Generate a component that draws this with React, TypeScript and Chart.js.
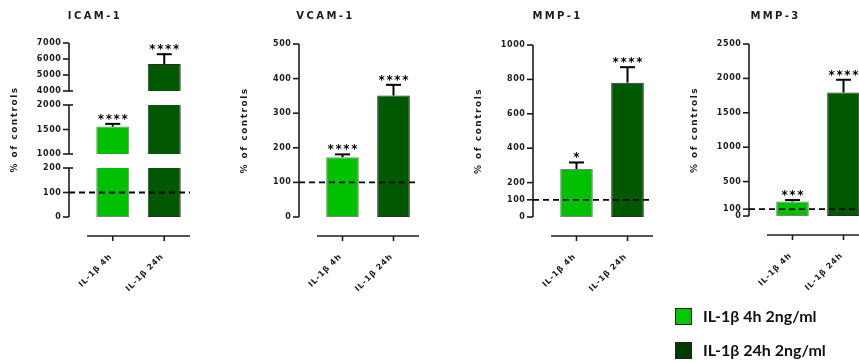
import React, { useEffect, useRef } from "react";
import { Chart, registerables } from "chart.js";

Chart.register(...registerables);

// ---------------- data ----------------
const categories = ["IL-1β 4h", "IL-1β 24h"];
const legendLabels = ["IL-1β 4h 2ng/ml", "IL-1β 24h 2ng/ml"];
const yAxisTitle = "% of controls";
const controlLevel = 100;

const icamMeans = [1560, 5690];
const icamErrTop = [1615, 6300];
const icamStars = ["****", "****"];
const icamTopTicks = [4000, 5000, 6000, 7000];
const icamMidTicks = [1000, 1500, 2000];
const icamLowTicks = [0, 100, 200];

const vcamMeans = [173, 351];
const vcamErrTop = [181, 382];
const vcamStars = ["****", "****"];
const vcamTicks = [0, 100, 200, 300, 400, 500];

const mmp1Means = [279, 781];
const mmp1ErrTop = [317, 871];
const mmp1Stars = ["*", "****"];
const mmp1Ticks = [0, 100, 200, 400, 600, 800, 1000];

const mmp3Means = [210, 1795];
const mmp3ErrTop = [232, 1980];
const mmp3Stars = ["***", "****"];
const mmp3Ticks = [0, 100, 500, 1000, 1500, 2000, 2500];

// ---------------- styles / layout ----------------
const FONT = "'DejaVu Sans', 'Liberation Sans', Arial, sans-serif";
const INK = "#1c1c1c";
const barFill = ["#00c000", "#005800"];
const barEdge = ["#808080", "#2e2e2e"];
const legendFill = ["#00c800", "#003c00"];
const H = 300;
const AXIS_GAP = 18;
const X_AXIS_DROP = 19;

type Spec = {
  key: string;
  left: number;
  width: number;
  areaLeft: number;
  areaRight: number;
  areaTop: number;
  areaBottom: number;
  min: number;
  max: number;
  ticks: number[];
  breakTicks?: number[];
  title?: string;
  yTitle: boolean;
  xAxis: boolean;
  means: number[];
  errs: number[];
  stars: string[];
};

const panels: Spec[] = [
  { key: "icam-top", left: 0, width: 262, areaLeft: 87, areaRight: 190, areaTop: 43, areaBottom: 91, min: 4000, max: 7000, ticks: icamTopTicks, breakTicks: [4000], title: "ICAM-1", yTitle: false, xAxis: false, means: icamMeans, errs: icamErrTop, stars: icamStars },
  { key: "icam-mid", left: 0, width: 262, areaLeft: 87, areaRight: 190, areaTop: 105, areaBottom: 154, min: 1000, max: 2000, ticks: icamMidTicks, breakTicks: [1000, 2000], yTitle: true, xAxis: false, means: icamMeans, errs: icamErrTop, stars: icamStars },
  { key: "icam-low", left: 0, width: 262, areaLeft: 87, areaRight: 190, areaTop: 168, areaBottom: 217, min: 0, max: 200, ticks: icamLowTicks, breakTicks: [200], yTitle: false, xAxis: true, means: icamMeans, errs: icamErrTop, stars: icamStars },
  { key: "vcam", left: 232, width: 256, areaLeft: 317, areaRight: 419, areaTop: 44, areaBottom: 217, min: 0, max: 500, ticks: vcamTicks, title: "VCAM-1", yTitle: true, xAxis: true, means: vcamMeans, errs: vcamErrTop, stars: vcamStars },
  { key: "mmp1", left: 462, width: 264, areaLeft: 551, areaRight: 653, areaTop: 45, areaBottom: 217, min: 0, max: 1000, ticks: mmp1Ticks, title: "MMP-1", yTitle: true, xAxis: true, means: mmp1Means, errs: mmp1ErrTop, stars: mmp1Stars },
  { key: "mmp3", left: 682, width: 256, areaLeft: 767, areaRight: 869, areaTop: 44, areaBottom: 216, min: 0, max: 2500, ticks: mmp3Ticks, title: "MMP-3", yTitle: true, xAxis: true, means: mmp3Means, errs: mmp3ErrTop, stars: mmp3Stars },
];

function patchSpacing(obj: any, method: string, spacing: string) {
  if (!obj || obj["__ls_" + method]) return;
  const orig = obj[method];
  obj[method] = function (...a: any[]) {
    const c = this.ctx;
    const prev = c.letterSpacing;
    c.letterSpacing = spacing;
    try {
      return orig.apply(this, a);
    } finally {
      c.letterSpacing = prev;
    }
  };
  obj["__ls_" + method] = true;
}

function line(ctx: CanvasRenderingContext2D, x1: number, y1: number, x2: number, y2: number) {
  ctx.beginPath();
  ctx.moveTo(x1, y1);
  ctx.lineTo(x2, y2);
  ctx.stroke();
}

function makeDeco(s: Spec) {
  return {
    id: "panelDeco",
    beforeDraw(chart: any) {
      patchSpacing(chart.scales.y, "drawLabels", "0.6px");
      patchSpacing(chart.scales.y, "drawTitle", "1.5px");
      patchSpacing(chart.scales.x, "drawLabels", "0.8px");
      patchSpacing(chart.titleBlock, "draw", "2.4px");
    },
    afterDatasetsDraw(chart: any) {
      const { ctx, chartArea } = chart;
      const x = chart.scales.x;
      const y = chart.scales.y;
      const axisX = chartArea.left - AXIS_GAP;
      ctx.save();
      ctx.strokeStyle = INK;
      ctx.lineWidth = 1.6;
      // y axis line and tick marks
      line(ctx, axisX, y.getPixelForValue(s.max), axisX, y.getPixelForValue(s.min));
      for (const v of s.ticks) {
        const py = y.getPixelForValue(v);
        const ext = s.breakTicks && s.breakTicks.includes(v) ? 4 : 0;
        line(ctx, axisX - 6, py, axisX + ext, py);
      }
      // detached x axis
      if (s.xAxis) {
        const xy = chartArea.bottom + X_AXIS_DROP;
        line(ctx, chartArea.left, xy, chartArea.right, xy);
        categories.forEach((_, i) => {
          const px = x.getPixelForValue(i);
          line(ctx, px, xy, px, xy + 5);
        });
      }
      // control level dashed line
      if (controlLevel >= s.min && controlLevel <= s.max) {
        const py = y.getPixelForValue(controlLevel);
        ctx.save();
        ctx.setLineDash([6, 4]);
        ctx.lineWidth = 1.8;
        ctx.strokeStyle = "#000";
        line(ctx, axisX, py, chartArea.right, py);
        ctx.restore();
      }
      // error bars and stars
      const meta = chart.getDatasetMeta(0);
      s.errs.forEach((e, i) => {
        if (e < s.min || e > s.max) return;
        const bar = meta.data[i];
        const top = y.getPixelForValue(e);
        const base = y.getPixelForValue(Math.max(s.means[i], s.min));
        ctx.lineWidth = 2;
        ctx.strokeStyle = "#000";
        line(ctx, bar.x, base, bar.x, top);
        line(ctx, bar.x - 7.5, top, bar.x + 7.5, top);
        ctx.save();
        ctx.fillStyle = "#000";
        ctx.font = `bold 12px ${FONT}`;
        ctx.textAlign = "center";
        ctx.textBaseline = "alphabetic";
        (ctx as any).letterSpacing = "1.6px";
        ctx.fillText(s.stars[i], bar.x + 0.8, top - 1);
        ctx.restore();
      });
      ctx.restore();
    },
  };
}

function buildConfig(s: Spec): any {
  const wy = s.areaLeft - s.left;
  const pr = s.left + s.width - s.areaRight;
  const hasTitle = !!s.title;
  const hx = H - s.areaBottom;
  return {
    type: "bar",
    data: {
      labels: categories,
      datasets: [
        {
          label: yAxisTitle,
          data: s.means,
          backgroundColor: barFill,
          borderColor: barEdge,
          borderWidth: 1,
          borderSkipped: false,
          barPercentage: 0.8,
          categoryPercentage: 0.8,
        },
      ],
    },
    options: {
      responsive: false,
      animation: false,
      events: [],
      layout: {
        padding: {
          left: 0,
          right: pr,
          top: hasTitle ? 0 : s.areaTop,
          bottom: s.xAxis ? 0 : H - s.areaBottom,
        },
      },
      plugins: {
        legend: { display: false },
        tooltip: { enabled: false },
        title: {
          display: hasTitle,
          text: s.title || "",
          color: INK,
          font: { family: FONT, size: 10, weight: "bold", lineHeight: 1.2 },
          padding: { top: 10, bottom: s.areaTop - 22 },
        },
      },
      scales: {
        x: {
          display: s.xAxis,
          offset: true,
          grid: { display: false, drawTicks: false },
          border: { display: false },
          ticks: {
            autoSkip: false,
            minRotation: 45,
            maxRotation: 45,
            padding: 35,
            labelOffset: -2,
            color: INK,
            font: { family: FONT, size: 8, weight: "bold" },
          },
          afterFit: (sc: any) => {
            if (s.xAxis) sc.height = hx;
          },
        },
        y: {
          min: s.min,
          max: s.max,
          grid: { display: false, drawTicks: false },
          border: { display: false },
          ticks: {
            autoSkip: false,
            padding: 25.5,
            color: INK,
            font: { family: FONT, size: 8, weight: "bold" },
            callback: (v: any) => String(v),
          },
          afterBuildTicks: (sc: any) => {
            sc.ticks = s.ticks.map((v) => ({ value: v }));
          },
          afterFit: (sc: any) => {
            sc.width = wy;
          },
          title: {
            display: s.yTitle,
            text: yAxisTitle,
            color: INK,
            font: { family: FONT, size: 9, weight: "bold", lineHeight: 1.2 },
            padding: { top: wy - 72 - 5.4, bottom: 0 },
          },
        },
      },
    },
    plugins: [makeDeco(s)],
  };
}

function Panel({ spec }: { spec: Spec }) {
  const ref = useRef<HTMLCanvasElement | null>(null);
  useEffect(() => {
    if (!ref.current) return;
    const chart = new Chart(ref.current, buildConfig(spec));
    return () => chart.destroy();
  }, [spec]);
  return (
    <canvas
      ref={ref}
      width={spec.width}
      height={H}
      style={{ position: "absolute", left: spec.left, top: 0, width: spec.width, height: H }}
    />
  );
}

export default function App() {
  return (
    <div
      style={{
        position: "absolute",
        left: 0,
        top: 0,
        width: 859,
        height: 363,
        overflow: "hidden",
        background: "#fff",
      }}
    >
      {panels.map((p) => (
        <Panel key={p.key} spec={p} />
      ))}
      {legendLabels.map((lab, i) => (
        <React.Fragment key={lab}>
          <div
            style={{
              position: "absolute",
              left: 675,
              top: 308 + i * 34,
              width: 17,
              height: 17,
              boxSizing: "border-box",
              background: legendFill[i],
              border: "1px solid #222",
            }}
          />
          <div
            style={{
              position: "absolute",
              left: 703,
              top: 306 + i * 34,
              font: "bold 16px Lato, 'Open Sans', sans-serif",
              lineHeight: "19px",
              color: "#111",
              whiteSpace: "nowrap",
            }}
          >
            {lab}
          </div>
        </React.Fragment>
      ))}
    </div>
  );
}
